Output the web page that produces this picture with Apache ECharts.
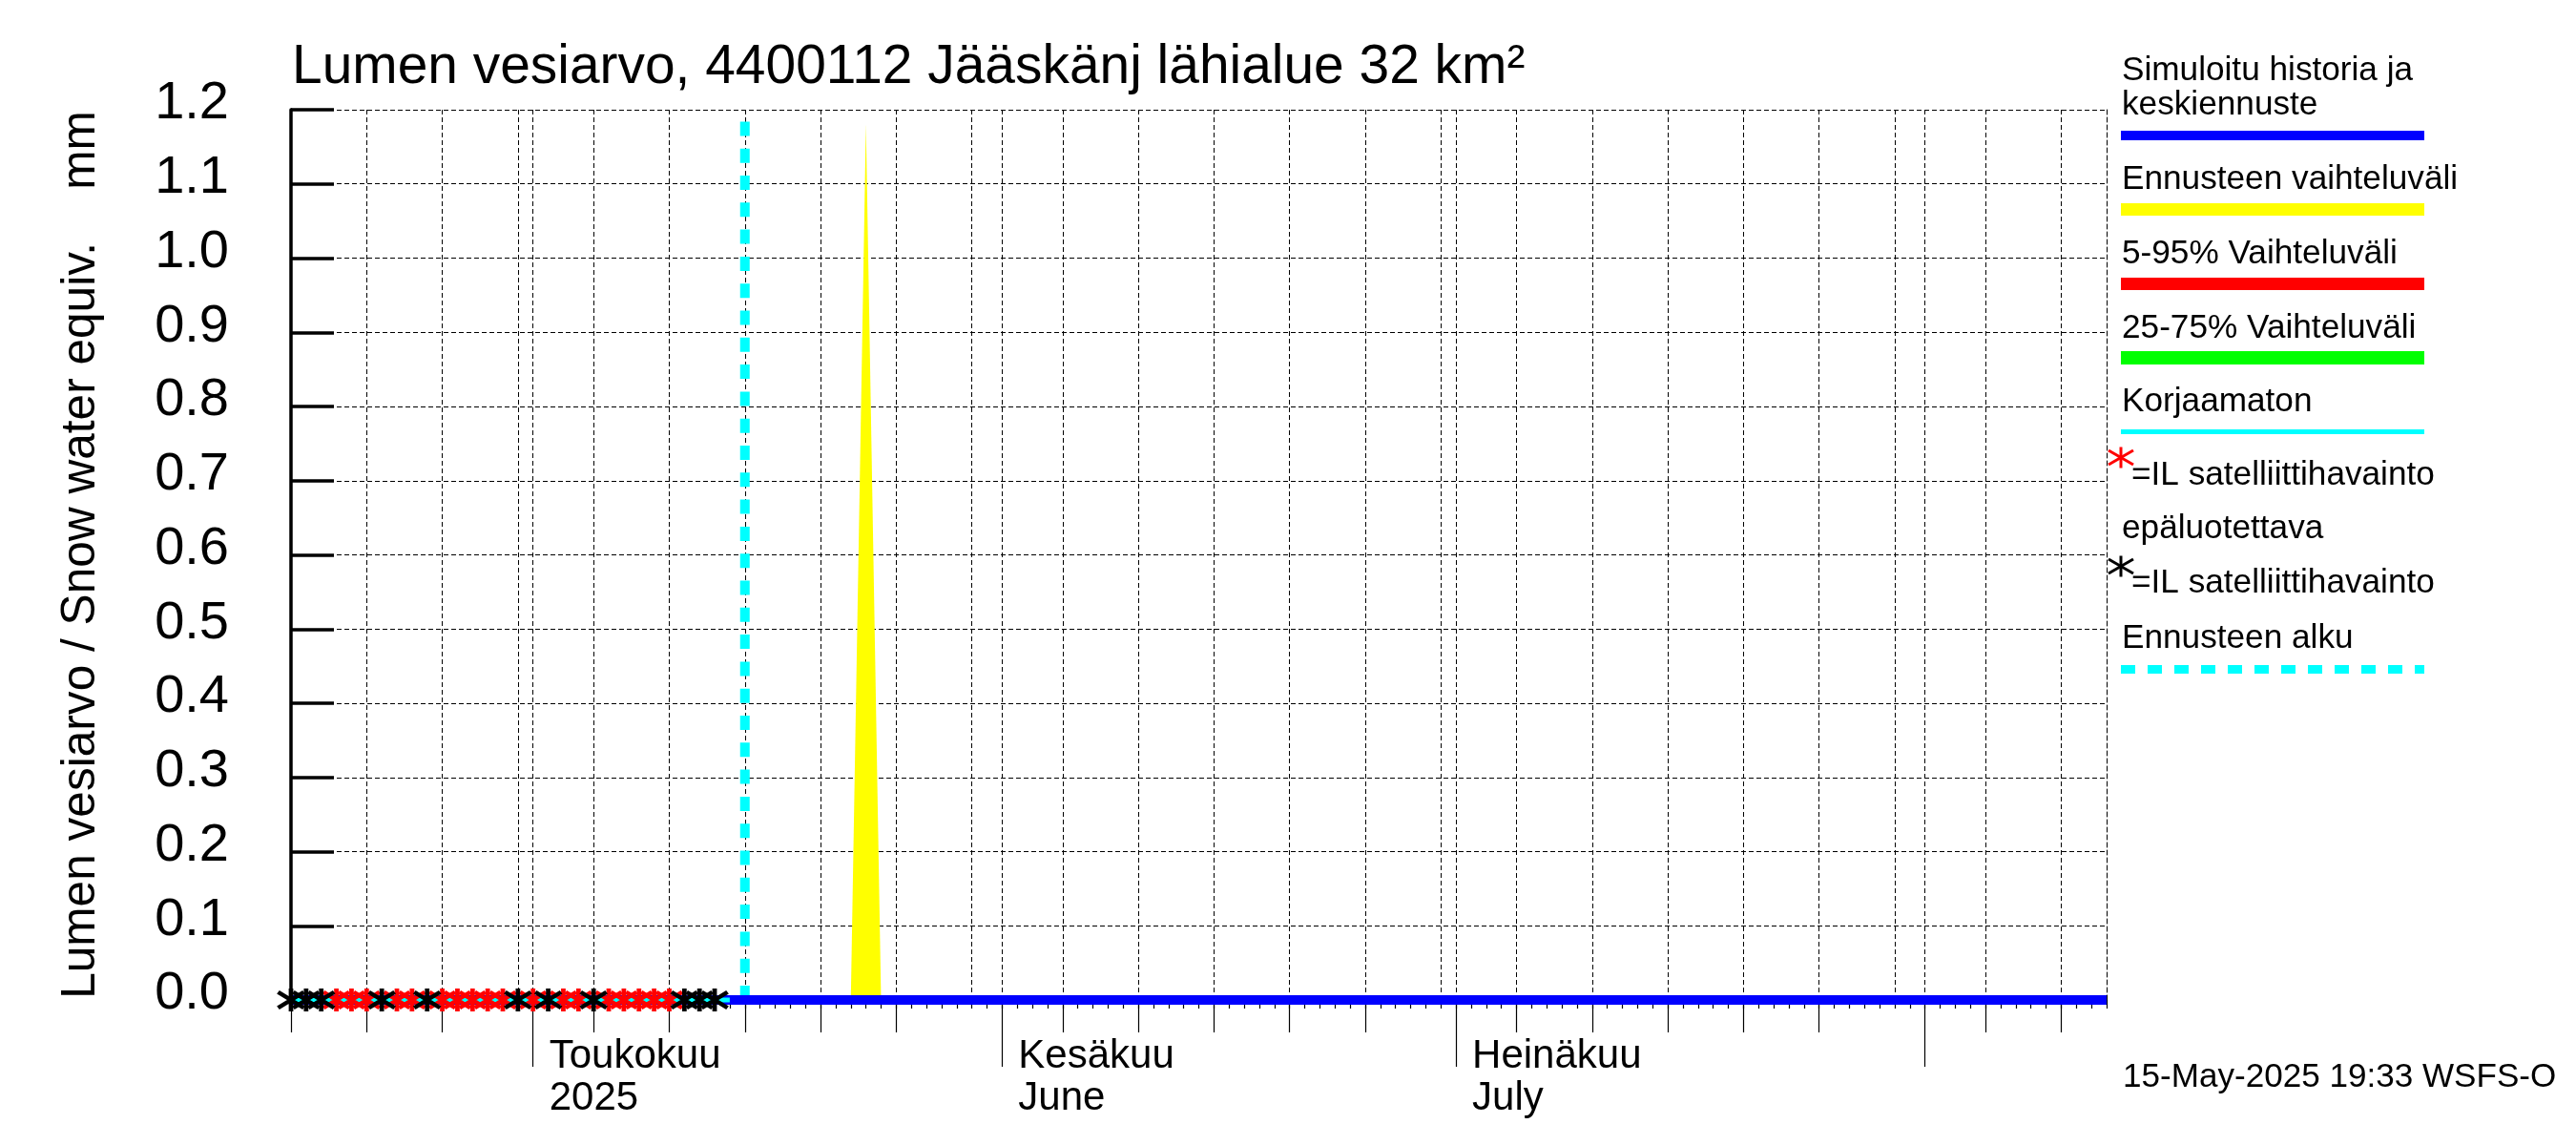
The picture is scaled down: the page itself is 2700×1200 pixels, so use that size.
<!DOCTYPE html>
<html>
<head>
<meta charset="utf-8">
<style>html,body{margin:0;padding:0;background:#fff}#c{width:2700px;height:1200px}</style>
<script src="https://cdn.jsdelivr.net/npm/echarts@6/dist/echarts.min.js"></script>
</head>
<body>
<div id="c"></div>
<script>
// ---- data ----
const axisStart = '2025-04-15';
const axisEnd = '2025-08-13';
const forecastStart = '2025-05-15';
const yTicks = [0, 0.1, 0.2, 0.3, 0.4, 0.5, 0.6, 0.7, 0.8, 0.9, 1.0, 1.1, 1.2];

const simulatedDates = ['2025-04-15', '2025-08-13'];
const simulatedValues = [0, 0];
const uncorrectedDates = ['2025-04-15', '2025-05-14'];
const uncorrectedValues = [0, 0];
const rangeDates = ['2025-05-22', '2025-05-23', '2025-05-24'];
const rangeValues = [0, 1.18, 0];
const startLineValues = [0, 1.185];

const satRedDates = ['2025-04-18','2025-04-19','2025-04-20','2025-04-22','2025-04-23','2025-04-25','2025-04-26','2025-04-27','2025-04-28','2025-04-29','2025-05-01','2025-05-03','2025-05-04','2025-05-06','2025-05-07','2025-05-08','2025-05-09','2025-05-10'];
const satBlackDates = ['2025-04-15','2025-04-16','2025-04-17','2025-04-21','2025-04-24','2025-04-30','2025-05-02','2025-05-05','2025-05-11','2025-05-12','2025-05-13'];

const gridDates = ['2025-04-15','2025-04-20','2025-04-25','2025-04-30','2025-05-01','2025-05-05','2025-05-10','2025-05-15','2025-05-20','2025-05-25','2025-05-30','2025-06-01','2025-06-05','2025-06-10','2025-06-15','2025-06-20','2025-06-25','2025-06-30','2025-07-01','2025-07-05','2025-07-10','2025-07-15','2025-07-20','2025-07-25','2025-07-30','2025-08-01','2025-08-05','2025-08-10'];
const mediumTickDates = ['2025-04-15','2025-04-20','2025-04-25','2025-05-05','2025-05-10','2025-05-15','2025-05-20','2025-05-25','2025-06-05','2025-06-10','2025-06-15','2025-06-20','2025-06-25','2025-07-05','2025-07-10','2025-07-15','2025-07-20','2025-07-25','2025-08-05','2025-08-10'];
const monthTickDates = ['2025-05-01','2025-06-01','2025-07-01','2025-08-01'];
const monthLabelDates = ['2025-05-01','2025-06-01','2025-07-01'];
const monthLabels = ['Toukokuu\n2025', 'Kesäkuu\nJune', 'Heinäkuu\nJuly'];

const titleText = 'Lumen vesiarvo, 4400112 Jääskänj lähialue 32 km²';
const yAxisTitle = 'Lumen vesiarvo / Snow water equiv.    mm';
const stampText = '15-May-2025 19:33 WSFS-O';

// ---- helpers ----
const FONT = '"Liberation Sans", Arial, Helvetica, sans-serif';
const DAY = 86400000;
const ts = s => { const p = s.split('-').map(Number); return Date.UTC(p[0], p[1] - 1, p[2]); };
const zip = (d, v) => d.map((x, i) => [ts(x), v[i]]);
const dayTicks = [];
for (let t = ts(axisStart); t <= ts(axisEnd); t += DAY) dayTicks.push(t);

const STAR = 'path://M12.5,0 L12.5,22 M0,3.5 L25,18.5 M0,18.5 L25,3.5';
const GRID_DASH = [5, 3];

function baseX(extra) {
  return Object.assign({
    type: 'value', min: ts(axisStart), max: ts(axisEnd), position: 'bottom', scale: true,
    axisLine: { show: false }, axisLabel: { show: false },
    splitLine: { show: false }, minorTick: { show: false }
  }, extra);
}
const tickStyle = w => ({ color: '#000', width: w });

const xAxes = [
  baseX({ axisTick: { show: false, customValues: gridDates.map(ts) },
          splitLine: { show: true, lineStyle: { color: '#000', width: 1, type: GRID_DASH } } }),
  baseX({ axisTick: { show: true, inside: false, length: 70, lineStyle: tickStyle(1.2), customValues: monthTickDates.map(ts) },
          axisLabel: { show: true, customValues: monthLabelDates.map(ts), hideOverlap: false,
            align: 'left', verticalAlign: 'top', margin: 37, padding: [0, 0, 0, 17],
            fontFamily: FONT, fontSize: 42, lineHeight: 44, color: '#000',
            formatter: v => monthLabels[monthLabelDates.map(ts).indexOf(v)] || '' } }),
  baseX({ axisTick: { show: true, inside: false, length: 34, lineStyle: tickStyle(1.2), customValues: mediumTickDates.map(ts) } }),
  baseX({ axisTick: { show: true, inside: false, length: 9, lineStyle: tickStyle(1.2), customValues: dayTicks } })
];

// ---- legend layout ----
const legendX0 = 2223, legendX1 = 2541;
const T = (text, x, baseline, size) => ({
  type: 'text', silent: true, z: 10,
  style: { text, x, y: baseline - (size || 35.2) * 0.25, font: (size || 35.2) + 'px ' + FONT, fill: '#000', verticalAlign: 'middle', align: 'left' }
});
const L = (y, color, w, dash) => ({
  type: 'line', silent: true, z: 10,
  shape: { x1: legendX0, y1: y, x2: legendX1, y2: y },
  style: { stroke: color, lineWidth: w, lineDash: dash || null, lineCap: 'butt' }
});
const starLine = (cx, cy, dx, dy, color) => ({
  type: 'line', silent: true, z: 10,
  shape: { x1: cx - dx, y1: cy - dy, x2: cx + dx, y2: cy + dy },
  style: { stroke: color, lineWidth: 3, lineCap: 'butt' }
});
const legendStar = (cx, cy, color) => [
  starLine(cx, cy, 0, 11, color), starLine(cx, cy, 13, 7.5, color), starLine(cx, cy, 13, -7.5, color)
];
const legendGraphics = [
  T('Simuloitu historia ja', 2224, 83), T('keskiennuste', 2224, 119), L(142, '#0000ff', 10),
  T('Ennusteen vaihteluväli', 2224, 197), L(219.5, '#ffff00', 13),
  T('5-95% Vaihteluväli', 2224, 275), L(297.5, '#ff0000', 13),
  T('25-75% Vaihteluväli', 2224, 353), L(375, '#00ff00', 14),
  T('Korjaamaton', 2224, 430), L(452.5, '#00ffff', 5),
  ...legendStar(2223, 479.5, '#ff0000'), T('=IL satelliittihavainto', 2234, 507),
  T('epäluotettava', 2224, 563),
  ...legendStar(2223, 593.5, '#000000'), T('=IL satelliittihavainto', 2234, 620),
  T('Ennusteen alku', 2224, 678), L(701.5, '#00ffff', 9, [15, 13]),
  T(stampText, 2225, 1138, 35.1)
];

// ---- chart ----
const chart = echarts.init(document.getElementById('c'), null, { renderer: 'canvas', width: 2700, height: 1200 });
chart.setOption({
  animation: false,
  backgroundColor: '#fff',
  title: { text: titleText, left: 306, top: 43, padding: 0,
    textStyle: { fontFamily: FONT, fontSize: 56.9, fontWeight: 'normal', color: '#000' } },
  grid: { left: 305, right: 492, top: 115, bottom: 152, containLabel: false },
  xAxis: xAxes,
  yAxis: [
    { type: 'value', min: 0, max: 1.2, interval: 0.1, position: 'left',
      name: yAxisTitle, nameLocation: 'middle', nameRotate: 90, nameGap: 195,
      nameTextStyle: { fontFamily: FONT, fontSize: 49.6, color: '#000' },
      axisLine: { show: true, lineStyle: { color: '#000', width: 3.5 } },
      axisTick: { show: true, inside: true, length: 45, lineStyle: { color: '#000', width: 3.5 } },
      axisLabel: { margin: 65, fontFamily: FONT, fontSize: 56, color: '#000', verticalAlign: 'bottom', lineHeight: 12,
        formatter: v => yTicks.find(t => Math.abs(t - v) < 1e-6).toFixed(1) },
      splitLine: { show: true, lineStyle: { color: '#000', width: 1, type: GRID_DASH } } },
    { type: 'value', min: 0, max: 1.2, interval: 0.1, position: 'right',
      axisLine: { show: true, lineStyle: { color: '#000', width: 1, type: GRID_DASH } },
      axisTick: { show: false }, axisLabel: { show: false }, splitLine: { show: false } }
  ],
  series: [
    { name: 'Ennusteen vaihteluväli', type: 'line', data: zip(rangeDates, rangeValues), symbol: 'none',
      lineStyle: { width: 0 }, areaStyle: { color: '#ffff00', opacity: 1 }, z: 2, silent: true },
    { name: 'Ennusteen alku', type: 'line', data: [[ts(forecastStart), startLineValues[0]], [ts(forecastStart), startLineValues[1]]],
      symbol: 'none', lineStyle: { color: '#00ffff', width: 10, type: [15, 13.3], cap: 'butt' }, z: 3, silent: true, clip: false },
    { name: 'Simuloitu historia ja keskiennuste', type: 'line', data: zip(simulatedDates, simulatedValues), symbol: 'none',
      lineStyle: { color: '#0000ff', width: 10, cap: 'butt' }, z: 4, silent: true, clip: false },
    { name: 'Korjaamaton', type: 'line', data: zip(uncorrectedDates, uncorrectedValues), symbol: 'none',
      lineStyle: { color: '#00ffff', width: 5, cap: 'butt' }, z: 5, silent: true, clip: false },
    { name: 'IL satelliittihavainto', type: 'scatter', data: satRedDates.map(d => [ts(d), 0]), symbol: STAR, symbolSize: [27, 24],
      itemStyle: { color: 'none', borderColor: '#ff0000', borderWidth: 4.5, opacity: 1 }, z: 6, silent: true, clip: false },
    { name: 'IL satelliittihavainto epäluotettava', type: 'scatter', data: satBlackDates.map(d => [ts(d), 0]), symbol: STAR, symbolSize: [27, 24],
      itemStyle: { color: 'none', borderColor: '#000000', borderWidth: 4.5, opacity: 1 }, z: 7, silent: true, clip: false }
  ],
  graphic: { elements: legendGraphics }
});
</script>
</body>
</html>
